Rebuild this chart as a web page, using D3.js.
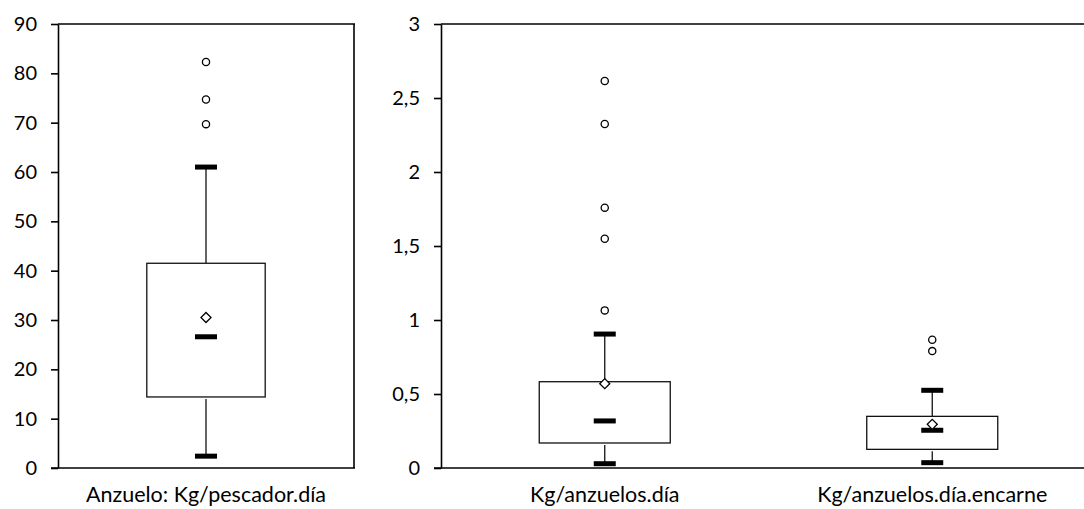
<!DOCTYPE html>
<html>
<head>
<meta charset="utf-8">
<script src="https://cdn.jsdelivr.net/npm/d3@7"></script>
<style>
  body { margin: 0; background: #fff; }
  svg { font-family: Lato, "Open Sans", sans-serif; }
  .frame { fill: none; stroke: #000; stroke-width: 1.6; }
  .box { fill: #fff; stroke: #111; stroke-width: 1.3; }
  .whisker { stroke: #111; stroke-width: 1.3; }
  .bar { fill: #000; }
  .mean { fill: #fff; stroke: #000; stroke-width: 1.3; }
  .outlier { fill: #fff; stroke: #000; stroke-width: 1.3; }
  .tick text { font-size: 20px; fill: #000; }
  .label { font-size: 21.5px; fill: #000; }
</style>
</head>
<body>
<svg id="vis" width="1084" height="509"></svg>
<script>
// box plot statistics, one entry per category
const categories = ["Anzuelo: Kg/pescador.día", "Kg/anzuelos.día", "Kg/anzuelos.día.encarne"];
const panelOf = [0, 1, 1];
const lowerWhisker = [2.4, 0.029, 0.036];
const q1 = [14.4, 0.169, 0.126];
const median = [26.6, 0.318, 0.255];
const mean = [30.5, 0.570, 0.295];
const q3 = [41.5, 0.583, 0.349];
const upperWhisker = [61.0, 0.905, 0.525];
const outliers = [[82.3, 74.7, 69.7], [2.615, 2.324, 1.759, 1.549, 1.065], [0.867, 0.79]];

// axis ticks for the two panels
const leftTicks = [0, 10, 20, 30, 40, 50, 60, 70, 80, 90];
const rightTicks = [0, 0.5, 1, 1.5, 2, 2.5, 3];

const svg = d3.select("svg#vis");
const es = d3.formatLocale({decimal: ",", thousands: ".", grouping: [3], currency: ["", "€"]});
const fmt = es.format("~g");

const plotTop = 24, plotBottom = 468;

const panels = [
  {x0: 58, x1: 354, ticks: leftTicks, rightBorder: true},
  {x0: 441, x1: 1096, ticks: rightTicks, rightBorder: false}
];

panels.forEach(function(p, pi) {
  const idx = categories.map((c, i) => i).filter(i => panelOf[i] === pi);
  const cats = idx.map(i => categories[i]);

  const x = d3.scaleBand().domain(cats).range([p.x0, p.x1]);
  const y = d3.scaleLinear()
    .domain([0, d3.max(p.ticks)])
    .range([plotBottom, plotTop]);

  const g = svg.append("g");

  // frame
  g.append("line").attr("class", "frame")
    .attr("x1", p.x0).attr("x2", p.x1 + 1).attr("y1", plotTop).attr("y2", plotTop);
  g.append("line").attr("class", "frame")
    .attr("x1", p.x0 - 7).attr("x2", p.x1 + 1).attr("y1", plotBottom).attr("y2", plotBottom);
  if (p.rightBorder) {
    g.append("line").attr("class", "frame")
      .attr("x1", p.x1).attr("x2", p.x1).attr("y1", plotTop).attr("y2", plotBottom);
  }

  // y axis
  const yAxis = d3.axisLeft(y).tickValues(p.ticks).tickFormat(fmt)
    .tickSize(7).tickSizeOuter(0).tickPadding(14);
  const ax = g.append("g")
    .attr("transform", "translate(" + p.x0 + ",0)")
    .call(yAxis);
  ax.select(".domain").attr("stroke", "#000").attr("stroke-width", 1.6);
  ax.selectAll(".tick line").attr("stroke", "#000").attr("stroke-width", 1.6);
  ax.selectAll(".tick text").attr("font-family", "Lato, sans-serif");

  // category labels
  g.selectAll("text.label")
    .data(cats)
    .enter()
    .append("text")
    .attr("class", "label")
    .attr("x", d => x(d) + x.bandwidth() / 2)
    .attr("y", 502)
    .attr("text-anchor", "middle")
    .text(d => d);

  const boxW = x.bandwidth() * 0.4;
  const capW = 22, capH = 5;

  idx.forEach(function(i) {
    const cx = x(categories[i]) + x.bandwidth() / 2;
    const b = g.append("g");

    b.append("line").attr("class", "whisker")
      .attr("x1", cx).attr("x2", cx)
      .attr("y1", y(upperWhisker[i])).attr("y2", y(q3[i]));
    b.append("line").attr("class", "whisker")
      .attr("x1", cx).attr("x2", cx)
      .attr("y1", y(q1[i]) + 2).attr("y2", y(lowerWhisker[i]));

    b.append("rect").attr("class", "box")
      .attr("x", cx - boxW / 2)
      .attr("width", boxW)
      .attr("y", y(q3[i]))
      .attr("height", y(q1[i]) - y(q3[i]));

    [upperWhisker[i], lowerWhisker[i], median[i]].forEach(function(v) {
      b.append("rect").attr("class", "bar")
        .attr("x", cx - capW / 2)
        .attr("width", capW)
        .attr("y", y(v) - capH / 2)
        .attr("height", capH);
    });

    b.append("path").attr("class", "mean")
      .attr("d", d3.symbol(d3.symbolSquare, 50)())
      .attr("transform", "translate(" + cx + "," + y(mean[i]) + ") rotate(45)");

    b.selectAll("circle.outlier")
      .data(outliers[i])
      .enter()
      .append("circle")
      .attr("class", "outlier")
      .attr("cx", cx)
      .attr("cy", d => y(d))
      .attr("r", 3.6);
  });
});
</script>
</body>
</html>
